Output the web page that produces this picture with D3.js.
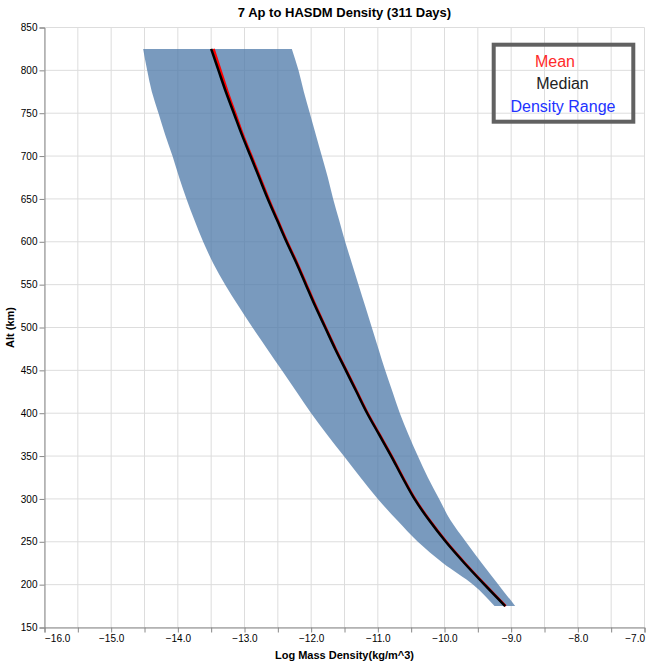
<!DOCTYPE html>
<html>
<head>
<meta charset="utf-8">
<script src="https://cdn.jsdelivr.net/npm/d3@7/dist/d3.min.js"></script>
<style>
  html, body { margin: 0; padding: 0; background: #fff; }
  svg { display: block; font-family: "Liberation Sans", Arial, Helvetica, sans-serif; }
</style>
</head>
<body>
<svg id="chart" width="650" height="664"></svg>
<script>
const altitudes = [825, 800, 775, 750, 725, 700, 675, 650, 625, 600, 575, 550, 525, 500, 475, 450, 425, 400, 375, 350, 325, 300, 275, 250, 225, 200, 175];
const densityMin = [-14.52, -14.46, -14.39, -14.29, -14.19, -14.08, -13.98, -13.87, -13.75, -13.62, -13.47, -13.29, -13.09, -12.88, -12.66, -12.44, -12.22, -12.00, -11.76, -11.51, -11.26, -11.00, -10.71, -10.40, -10.02, -9.57, -9.25];
const densityMax = [-12.29, -12.19, -12.11, -12.02, -11.93, -11.84, -11.75, -11.67, -11.58, -11.49, -11.39, -11.29, -11.19, -11.09, -10.99, -10.89, -10.78, -10.67, -10.54, -10.40, -10.25, -10.08, -9.91, -9.68, -9.44, -9.19, -8.94];
const densityMedian = [-13.50, -13.39, -13.28, -13.16, -13.04, -12.91, -12.78, -12.65, -12.51, -12.37, -12.22, -12.08, -11.94, -11.79, -11.64, -11.48, -11.32, -11.16, -10.98, -10.80, -10.63, -10.45, -10.23, -9.98, -9.70, -9.40, -9.09];
const densityMean = [-13.465, -13.36, -13.255, -13.14, -13.025, -12.895, -12.767, -12.638, -12.50, -12.36, -12.21, -12.07, -11.93, -11.782, -11.632, -11.472, -11.312, -11.152, -10.972, -10.792, -10.622, -10.442, -10.222, -9.972, -9.692, -9.392, -9.082];
const xTicks = [-16, -15.5, -15, -14.5, -14, -13.5, -13, -12.5, -12, -11.5, -11, -10.5, -10, -9.5, -9, -8.5, -8, -7.5, -7];
const xLabelTicks = [-16, -15, -14, -13, -12, -11, -10, -9, -8, -7];
const yTicks = [150, 200, 250, 300, 350, 400, 450, 500, 550, 600, 650, 700, 750, 800, 850];
const legendItems = ["Mean", "Median", "Density Range"];
const titleText = "7 Ap to HASDM Density (311 Days)";
const xTitle = "Log Mass Density(kg/m^3)";
const yTitle = "Alt (km)";

const svg = d3.select("#chart");
const x = d3.scaleLinear().domain([-16, -7]).range([44.5, 644.5]);
const y = d3.scaleLinear().domain([150, 850]).range([627.5, 27.5]);
const fmt = d3.format(".1f");

const rows = altitudes.map((a, i) => ({alt: a, lo: densityMin[i], hi: densityMax[i], med: densityMedian[i], mean: densityMean[i]}));

// grid
const grid = svg.append("g");
grid.selectAll("line.gx").data(xTicks).join("line")
  .attr("x1", d => x(d)).attr("x2", d => x(d))
  .attr("y1", y(850)).attr("y2", y(150))
  .attr("stroke", "#ddd").attr("stroke-width", 1);
grid.selectAll("line.gy").data(yTicks).join("line")
  .attr("x1", x(-16)).attr("x2", x(-7))
  .attr("y1", d => y(d)).attr("y2", d => y(d))
  .attr("stroke", "#ddd").attr("stroke-width", 1);

// band
const area = d3.area().curve(d3.curveMonotoneY).y(d => y(d.alt)).x0(d => x(d.lo)).x1(d => x(d.hi));
svg.append("path").datum(rows).attr("d", area)
  .attr("fill", "#4c78a8").attr("fill-opacity", 0.75);

// lines
const lineMean = d3.line().curve(d3.curveMonotoneY).x(d => x(d.mean)).y(d => y(d.alt));
const lineMed = d3.line().curve(d3.curveMonotoneY).x(d => x(d.med)).y(d => y(d.alt));
svg.append("path").datum(rows).attr("d", lineMean)
  .attr("fill", "none").attr("stroke", "#ff0000").attr("stroke-width", 2.5);
svg.append("path").datum(rows).attr("d", lineMed)
  .attr("fill", "none").attr("stroke", "#000").attr("stroke-width", 2.5);

// x axis
const xAxis = svg.append("g").attr("transform", `translate(0,${y(150)})`)
  .call(d3.axisBottom(x).tickValues(xTicks).tickSize(5).tickFormat(d => xLabelTicks.includes(d) ? fmt(d) : ""));
xAxis.select(".domain").attr("stroke", "#888");
xAxis.selectAll(".tick line").attr("stroke", "#888");
xAxis.selectAll(".tick text").attr("font-size", 10).attr("fill", "#000")
  .attr("font-family", "Liberation Sans, Arial, sans-serif").attr("dy", "0.71em").attr("y", 7);
xAxis.selectAll(".tick text").filter(d => d === -16).attr("text-anchor", "start");
xAxis.selectAll(".tick text").filter(d => d === -7).attr("text-anchor", "end");

// y axis
const yAxis = svg.append("g").attr("transform", `translate(${x(-16)},0)`)
  .call(d3.axisLeft(y).tickValues(yTicks).tickSize(5).tickFormat(d3.format("d")));
yAxis.select(".domain").attr("stroke", "#888");
yAxis.selectAll(".tick line").attr("stroke", "#888");
yAxis.selectAll(".tick text").attr("font-size", 10).attr("fill", "#000")
  .attr("font-family", "Liberation Sans, Arial, sans-serif").attr("x", -7);

// titles
svg.append("text").attr("x", 344.5).attr("y", 17).attr("text-anchor", "middle")
  .attr("font-size", 13).attr("font-weight", "bold").text(titleText);
svg.append("text").attr("x", 344.5).attr("y", 659).attr("text-anchor", "middle")
  .attr("font-size", 11).attr("font-weight", "bold").text(xTitle);
svg.append("text").attr("transform", `translate(14,${y(500)}) rotate(-90)`).attr("text-anchor", "middle")
  .attr("font-size", 11).attr("font-weight", "bold").text(yTitle);

// legend
svg.append("rect").attr("x", 493.7).attr("y", 44.7).attr("width", 139.6).attr("height", 77)
  .attr("fill", "none").attr("stroke", "#616161").attr("stroke-width", 4);
const legendColors = ["#ff2a2a", "#222", "#2233ff"];
const legendX = [555, 562.5, 563];
const legendY = [67.3, 89.3, 112];
svg.selectAll("text.leg").data(legendItems).join("text").attr("class", "leg")
  .attr("x", (d, i) => legendX[i]).attr("y", (d, i) => legendY[i])
  .attr("text-anchor", "middle").attr("font-size", 16)
  .attr("fill", (d, i) => legendColors[i]).text(d => d);
</script>
</body>
</html>
